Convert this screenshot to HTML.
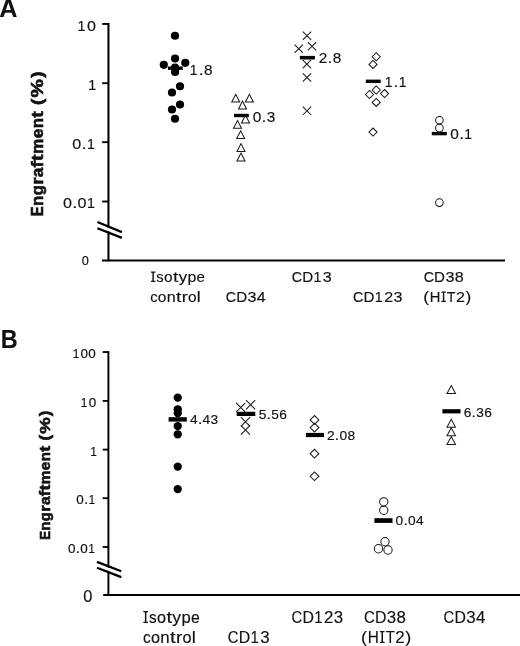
<!DOCTYPE html>
<html><head><meta charset="utf-8"><title>Engraftment</title>
<style>
html,body{margin:0;padding:0;background:#fff;}
body{width:520px;height:646px;overflow:hidden;font-family:"Liberation Sans",sans-serif;}
svg{display:block;filter:grayscale(1);}
svg text{font-family:"Liberation Sans",sans-serif;}
</style></head><body>
<svg width="520" height="646" viewBox="0 0 520 646">
<rect width="520" height="646" fill="#fff"/>
<g stroke="#000" stroke-width="2.05" fill="none" stroke-linecap="butt">
<path d="M108.45,23.0 V261.2"/>
<path d="M102.0,260.4 H505" stroke-width="1.95"/>
<path d="M102.2,23.95 H108.45" stroke-width="1.9"/>
<path d="M102.2,83.2 H108.45" stroke-width="1.9"/>
<path d="M102.2,142.15 H108.45" stroke-width="1.9"/>
<path d="M102.2,201.5 H108.45" stroke-width="1.9"/>
</g>
<path d="M97,223.2 L122.5,233.6 L122.5,236.6 L97,226.9 Z" fill="#fff"/>
<path d="M97.4,222.0 L121.9,232.1 M97.4,228.3 L121.9,237.9" stroke="#000" stroke-width="2.3" fill="none"/>
<text transform="translate(-0.80,17.10) scale(0.980,1)" font-size="25.80" font-weight="bold" stroke="#111" stroke-width="0.0" fill="#111">A</text>
<text transform="translate(77.58,30.60) scale(0.922,1)" font-size="15.46" stroke="#111" stroke-width="0.15" fill="#111">1</text>
<text transform="translate(86.91,30.60) scale(1.042,1)" font-size="15.46" stroke="#111" stroke-width="0.15" fill="#111">0</text>
<text transform="translate(88.21,89.60) scale(0.922,1)" font-size="15.46" stroke="#111" stroke-width="0.15" fill="#111">1</text>
<text transform="translate(72.24,149.00) scale(1.042,1)" font-size="15.46" stroke="#111" stroke-width="0.15" fill="#111">0</text>
<text transform="translate(81.47,149.00) scale(1.199,1)" font-size="15.46" stroke="#111" stroke-width="0.15" fill="#111">.</text>
<text transform="translate(86.91,149.00) scale(0.922,1)" font-size="15.46" stroke="#111" stroke-width="0.15" fill="#111">1</text>
<text transform="translate(62.91,208.00) scale(1.042,1)" font-size="15.46" stroke="#111" stroke-width="0.15" fill="#111">0</text>
<text transform="translate(72.14,208.00) scale(1.199,1)" font-size="15.46" stroke="#111" stroke-width="0.15" fill="#111">.</text>
<text transform="translate(77.58,208.00) scale(1.042,1)" font-size="15.46" stroke="#111" stroke-width="0.15" fill="#111">0</text>
<text transform="translate(86.91,208.00) scale(0.922,1)" font-size="15.46" stroke="#111" stroke-width="0.15" fill="#111">1</text>
<text transform="translate(81.87,265.20) scale(1.026,1)" font-size="12.41" stroke="#111" stroke-width="0.15" fill="#111">0</text>
<text transform="translate(43.20,216.22) rotate(-90) scale(0.882,1)" font-size="16.80" font-weight="bold" stroke="#111" stroke-width="0.6" fill="#111">E</text>
<text transform="translate(43.20,205.97) rotate(-90) scale(1.004,1)" font-size="16.80" font-weight="bold" stroke="#111" stroke-width="0.6" fill="#111">n</text>
<text transform="translate(43.20,195.29) rotate(-90) scale(0.986,1)" font-size="16.80" font-weight="bold" stroke="#111" stroke-width="0.6" fill="#111">g</text>
<text transform="translate(43.20,184.86) rotate(-90) scale(1.101,1)" font-size="16.80" font-weight="bold" stroke="#111" stroke-width="0.6" fill="#111">r</text>
<text transform="translate(43.20,177.36) rotate(-90) scale(1.035,1)" font-size="16.80" font-weight="bold" stroke="#111" stroke-width="0.6" fill="#111">a</text>
<text transform="translate(43.20,167.40) rotate(-90) scale(1.089,1)" font-size="16.80" font-weight="bold" stroke="#111" stroke-width="0.6" fill="#111">f</text>
<text transform="translate(43.20,161.08) rotate(-90) scale(1.177,1)" font-size="16.80" font-weight="bold" stroke="#111" stroke-width="0.6" fill="#111">t</text>
<text transform="translate(43.20,154.10) rotate(-90) scale(1.025,1)" font-size="16.80" font-weight="bold" stroke="#111" stroke-width="0.6" fill="#111">m</text>
<text transform="translate(43.20,138.33) rotate(-90) scale(1.029,1)" font-size="16.80" font-weight="bold" stroke="#111" stroke-width="0.6" fill="#111">e</text>
<text transform="translate(43.20,128.36) rotate(-90) scale(1.004,1)" font-size="16.80" font-weight="bold" stroke="#111" stroke-width="0.6" fill="#111">n</text>
<text transform="translate(43.20,117.75) rotate(-90) scale(1.177,1)" font-size="16.80" font-weight="bold" stroke="#111" stroke-width="0.6" fill="#111">t</text>
<text transform="translate(43.20,104.97) rotate(-90) scale(1.120,1)" font-size="16.80" font-weight="bold" stroke="#111" stroke-width="0.6" fill="#111">(</text>
<text transform="translate(43.20,97.43) rotate(-90) scale(1.232,1)" font-size="16.80" font-weight="bold" stroke="#111" stroke-width="0.6" fill="#111">%</text>
<text transform="translate(43.20,77.76) rotate(-90) scale(1.120,1)" font-size="16.80" font-weight="bold" stroke="#111" stroke-width="0.6" fill="#111">)</text>
<circle cx="175" cy="35.75" r="4.1" fill="#000"/>
<circle cx="175.1" cy="58.5" r="4.1" fill="#000"/>
<circle cx="163.8" cy="64.8" r="4.1" fill="#000"/>
<circle cx="185.3" cy="62.8" r="4.1" fill="#000"/>
<circle cx="175" cy="67.5" r="4.1" fill="#000"/>
<circle cx="175.1" cy="72.0" r="4.1" fill="#000"/>
<circle cx="180" cy="86.25" r="4.1" fill="#000"/>
<circle cx="172" cy="92.5" r="4.1" fill="#000"/>
<circle cx="180" cy="104.5" r="4.1" fill="#000"/>
<circle cx="172" cy="109.5" r="4.1" fill="#000"/>
<circle cx="175" cy="118.75" r="4.1" fill="#000"/>
<rect x="167.9" y="66.5" width="14.90" height="3.40" fill="#000"/>
<rect x="234.0" y="113.8" width="14.80" height="3.40" fill="#000"/>
<rect x="299.9" y="55.9" width="15.00" height="3.60" fill="#000"/>
<rect x="365.8" y="79.6" width="14.90" height="3.40" fill="#000"/>
<rect x="431.8" y="131.9" width="15.00" height="3.40" fill="#000"/>
<path d="M231.75,102.10 L235.75,94.30 L239.75,102.10 Z" stroke="#181818" stroke-width="1.02" fill="none"/>
<path d="M245.40,102.10 L249.40,94.30 L253.40,102.10 Z" stroke="#181818" stroke-width="1.02" fill="none"/>
<path d="M238.50,108.90 L242.50,101.10 L246.50,108.90 Z" stroke="#181818" stroke-width="1.02" fill="none"/>
<path d="M241.50,122.90 L245.50,115.10 L249.50,122.90 Z" stroke="#181818" stroke-width="1.02" fill="none"/>
<path d="M233.50,128.30 L237.50,120.50 L241.50,128.30 Z" stroke="#181818" stroke-width="1.02" fill="none"/>
<path d="M236.70,138.60 L240.70,130.80 L244.70,138.60 Z" stroke="#181818" stroke-width="1.02" fill="none"/>
<path d="M237.00,151.40 L241.00,143.60 L245.00,151.40 Z" stroke="#181818" stroke-width="1.02" fill="none"/>
<path d="M237.00,160.90 L241.00,153.10 L245.00,160.90 Z" stroke="#181818" stroke-width="1.02" fill="none"/>
<path d="M302.80,31.55 L311.20,39.95 M302.80,39.95 L311.20,31.55" stroke="#181818" stroke-width="1.02" fill="none"/>
<path d="M294.55,44.55 L302.95,52.95 M294.55,52.95 L302.95,44.55" stroke="#181818" stroke-width="1.02" fill="none"/>
<path d="M307.80,42.05 L316.20,50.45 M307.80,50.45 L316.20,42.05" stroke="#181818" stroke-width="1.02" fill="none"/>
<path d="M302.70,59.90 L311.10,68.30 M302.70,68.30 L311.10,59.90" stroke="#181818" stroke-width="1.02" fill="none"/>
<path d="M302.80,73.30 L311.20,81.70 M302.80,81.70 L311.20,73.30" stroke="#181818" stroke-width="1.02" fill="none"/>
<path d="M302.80,106.60 L311.20,115.00 M302.80,115.00 L311.20,106.60" stroke="#181818" stroke-width="1.02" fill="none"/>
<path d="M372.20,56.75 L376.25,52.70 L380.30,56.75 L376.25,60.80 Z" stroke="#181818" stroke-width="1.02" fill="none"/>
<path d="M368.95,64.40 L373.00,60.35 L377.05,64.40 L373.00,68.45 Z" stroke="#181818" stroke-width="1.02" fill="none"/>
<path d="M372.20,90.00 L376.25,85.95 L380.30,90.00 L376.25,94.05 Z" stroke="#181818" stroke-width="1.02" fill="none"/>
<path d="M365.45,94.50 L369.50,90.45 L373.55,94.50 L369.50,98.55 Z" stroke="#181818" stroke-width="1.02" fill="none"/>
<path d="M380.45,93.60 L384.50,89.55 L388.55,93.60 L384.50,97.65 Z" stroke="#181818" stroke-width="1.02" fill="none"/>
<path d="M372.20,102.40 L376.25,98.35 L380.30,102.40 L376.25,106.45 Z" stroke="#181818" stroke-width="1.02" fill="none"/>
<path d="M368.95,132.10 L373.00,128.05 L377.05,132.10 L373.00,136.15 Z" stroke="#181818" stroke-width="1.02" fill="none"/>
<circle cx="439.4" cy="120.2" r="3.8" stroke="#181818" stroke-width="1.02" fill="none"/>
<circle cx="439.4" cy="128.1" r="3.8" stroke="#181818" stroke-width="1.02" fill="none"/>
<circle cx="439.4" cy="202.6" r="3.8" stroke="#181818" stroke-width="1.02" fill="none"/>
<text transform="translate(189.84,74.60) scale(0.920,1)" font-size="15.12" stroke="#111" stroke-width="0.15" fill="#111">1</text>
<text transform="translate(198.74,74.60) scale(1.170,1)" font-size="15.12" stroke="#111" stroke-width="0.15" fill="#111">.</text>
<text transform="translate(203.93,74.60) scale(1.017,1)" font-size="15.12" stroke="#111" stroke-width="0.15" fill="#111">8</text>
<text transform="translate(252.73,121.60) scale(1.017,1)" font-size="15.12" stroke="#111" stroke-width="0.15" fill="#111">0</text>
<text transform="translate(261.54,121.60) scale(1.170,1)" font-size="15.12" stroke="#111" stroke-width="0.15" fill="#111">.</text>
<text transform="translate(266.73,121.60) scale(1.017,1)" font-size="15.12" stroke="#111" stroke-width="0.15" fill="#111">3</text>
<text transform="translate(318.73,62.90) scale(1.017,1)" font-size="15.12" stroke="#111" stroke-width="0.15" fill="#111">2</text>
<text transform="translate(327.54,62.90) scale(1.170,1)" font-size="15.12" stroke="#111" stroke-width="0.15" fill="#111">.</text>
<text transform="translate(332.73,62.90) scale(1.017,1)" font-size="15.12" stroke="#111" stroke-width="0.15" fill="#111">8</text>
<text transform="translate(384.64,87.40) scale(0.920,1)" font-size="15.12" stroke="#111" stroke-width="0.15" fill="#111">1</text>
<text transform="translate(393.54,87.40) scale(1.170,1)" font-size="15.12" stroke="#111" stroke-width="0.15" fill="#111">.</text>
<text transform="translate(398.64,87.40) scale(0.920,1)" font-size="15.12" stroke="#111" stroke-width="0.15" fill="#111">1</text>
<text transform="translate(450.33,139.10) scale(1.017,1)" font-size="15.12" stroke="#111" stroke-width="0.15" fill="#111">0</text>
<text transform="translate(459.14,139.10) scale(1.170,1)" font-size="15.12" stroke="#111" stroke-width="0.15" fill="#111">.</text>
<text transform="translate(464.24,139.10) scale(0.920,1)" font-size="15.12" stroke="#111" stroke-width="0.15" fill="#111">1</text>
<path d="M152.43,271.40h1.44v10.60h-1.44z M150.95,271.40h4.40v1.25h-4.40z M150.95,280.75h4.40v1.25h-4.40z" fill="#111"/>
<text transform="translate(156.37,282.40) scale(0.954,1)" font-size="15.46" stroke="#111" stroke-width="0.15" fill="#111">s</text>
<text transform="translate(164.04,282.40) scale(1.000,1)" font-size="15.46" stroke="#111" stroke-width="0.15" fill="#111">o</text>
<text transform="translate(172.99,282.40) scale(1.250,1)" font-size="15.46" stroke="#111" stroke-width="0.15" fill="#111">t</text>
<text transform="translate(178.72,282.40) scale(1.084,1)" font-size="15.46" stroke="#111" stroke-width="0.15" fill="#111">y</text>
<text transform="translate(187.41,282.40) scale(1.026,1)" font-size="15.46" stroke="#111" stroke-width="0.15" fill="#111">p</text>
<text transform="translate(196.55,282.40) scale(0.981,1)" font-size="15.46" stroke="#111" stroke-width="0.15" fill="#111">e</text>
<text transform="translate(150.13,301.70) scale(0.954,1)" font-size="15.46" stroke="#111" stroke-width="0.15" fill="#111">c</text>
<text transform="translate(157.80,301.70) scale(1.000,1)" font-size="15.46" stroke="#111" stroke-width="0.15" fill="#111">o</text>
<text transform="translate(166.71,301.70) scale(1.042,1)" font-size="15.46" stroke="#111" stroke-width="0.15" fill="#111">n</text>
<text transform="translate(176.04,301.70) scale(1.250,1)" font-size="15.46" stroke="#111" stroke-width="0.15" fill="#111">t</text>
<text transform="translate(181.72,301.70) scale(1.174,1)" font-size="15.46" stroke="#111" stroke-width="0.15" fill="#111">r</text>
<text transform="translate(188.03,301.70) scale(1.000,1)" font-size="15.46" stroke="#111" stroke-width="0.15" fill="#111">o</text>
<text transform="translate(196.85,301.70) scale(1.130,1)" font-size="15.46" stroke="#111" stroke-width="0.15" fill="#111">l</text>
<text transform="translate(225.78,301.70) scale(0.920,1)" font-size="15.46" stroke="#111" stroke-width="0.15" fill="#111">C</text>
<text transform="translate(236.23,301.70) scale(0.978,1)" font-size="15.46" stroke="#111" stroke-width="0.15" fill="#111">D</text>
<text transform="translate(247.53,301.70) scale(1.042,1)" font-size="15.46" stroke="#111" stroke-width="0.15" fill="#111">3</text>
<text transform="translate(256.86,301.70) scale(1.042,1)" font-size="15.46" stroke="#111" stroke-width="0.15" fill="#111">4</text>
<text transform="translate(291.78,282.40) scale(0.920,1)" font-size="15.46" stroke="#111" stroke-width="0.15" fill="#111">C</text>
<text transform="translate(302.23,282.40) scale(0.978,1)" font-size="15.46" stroke="#111" stroke-width="0.15" fill="#111">D</text>
<text transform="translate(313.53,282.40) scale(0.922,1)" font-size="15.46" stroke="#111" stroke-width="0.15" fill="#111">1</text>
<text transform="translate(322.86,282.40) scale(1.042,1)" font-size="15.46" stroke="#111" stroke-width="0.15" fill="#111">3</text>
<text transform="translate(353.11,301.70) scale(0.920,1)" font-size="15.46" stroke="#111" stroke-width="0.15" fill="#111">C</text>
<text transform="translate(363.57,301.70) scale(0.978,1)" font-size="15.46" stroke="#111" stroke-width="0.15" fill="#111">D</text>
<text transform="translate(374.87,301.70) scale(0.922,1)" font-size="15.46" stroke="#111" stroke-width="0.15" fill="#111">1</text>
<text transform="translate(384.20,301.70) scale(1.042,1)" font-size="15.46" stroke="#111" stroke-width="0.15" fill="#111">2</text>
<text transform="translate(393.53,301.70) scale(1.042,1)" font-size="15.46" stroke="#111" stroke-width="0.15" fill="#111">3</text>
<text transform="translate(423.63,282.40) scale(0.920,1)" font-size="15.46" stroke="#111" stroke-width="0.15" fill="#111">C</text>
<text transform="translate(434.08,282.40) scale(0.978,1)" font-size="15.46" stroke="#111" stroke-width="0.15" fill="#111">D</text>
<text transform="translate(445.38,282.40) scale(1.042,1)" font-size="15.46" stroke="#111" stroke-width="0.15" fill="#111">3</text>
<text transform="translate(454.71,282.40) scale(1.042,1)" font-size="15.46" stroke="#111" stroke-width="0.15" fill="#111">8</text>
<text transform="translate(423.26,301.70) scale(1.120,1)" font-size="15.46" stroke="#111" stroke-width="0.15" fill="#111">(</text>
<text transform="translate(429.66,301.70) scale(0.952,1)" font-size="15.46" stroke="#111" stroke-width="0.15" fill="#111">H</text>
<path d="M442.86,291.40h1.44v10.60h-1.44z M441.37,291.40h4.40v1.25h-4.40z M441.37,300.75h4.40v1.25h-4.40z" fill="#111"/>
<text transform="translate(446.82,301.70) scale(0.923,1)" font-size="15.46" stroke="#111" stroke-width="0.15" fill="#111">T</text>
<text transform="translate(455.89,301.70) scale(1.042,1)" font-size="15.46" stroke="#111" stroke-width="0.15" fill="#111">2</text>
<text transform="translate(465.48,301.70) scale(1.120,1)" font-size="15.46" stroke="#111" stroke-width="0.15" fill="#111">)</text>
<g stroke="#000" stroke-width="1.95" fill="none">
<path d="M108.4,351.1 V595.9"/>
<path d="M103.2,595.0 H520" stroke-width="1.9"/>
<path d="M102.7,352.05 H108.4" stroke-width="1.85"/>
<path d="M102.7,400.9 H108.4" stroke-width="1.85"/>
<path d="M102.7,449.6 H108.4" stroke-width="1.85"/>
<path d="M102.7,498.2 H108.4" stroke-width="1.85"/>
<path d="M102.7,547.0 H108.4" stroke-width="1.85"/>
</g>
<path d="M96.5,563.0 L122,572.9 L122,575.8 L96.5,566.4 Z" fill="#fff"/>
<path d="M97.0,561.9 L121.3,571.3 M97.0,567.7 L121.3,577.1" stroke="#000" stroke-width="2.3" fill="none"/>
<text transform="translate(0.75,347.70) scale(0.910,1)" font-size="25.80" font-weight="bold" stroke="#111" stroke-width="0.1" fill="#111">B</text>
<text transform="translate(72.78,358.20) scale(0.922,1)" font-size="12.91" stroke="#111" stroke-width="0.15" fill="#111">1</text>
<text transform="translate(80.57,358.20) scale(1.042,1)" font-size="12.91" stroke="#111" stroke-width="0.15" fill="#111">0</text>
<text transform="translate(88.36,358.20) scale(1.042,1)" font-size="12.91" stroke="#111" stroke-width="0.15" fill="#111">0</text>
<text transform="translate(80.87,406.50) scale(0.922,1)" font-size="12.91" stroke="#111" stroke-width="0.15" fill="#111">1</text>
<text transform="translate(88.66,406.50) scale(1.042,1)" font-size="12.91" stroke="#111" stroke-width="0.15" fill="#111">0</text>
<text transform="translate(90.26,455.90) scale(0.922,1)" font-size="12.91" stroke="#111" stroke-width="0.15" fill="#111">1</text>
<text transform="translate(76.21,504.40) scale(1.042,1)" font-size="12.91" stroke="#111" stroke-width="0.15" fill="#111">0</text>
<text transform="translate(83.93,504.40) scale(1.199,1)" font-size="12.91" stroke="#111" stroke-width="0.15" fill="#111">.</text>
<text transform="translate(88.46,504.40) scale(0.922,1)" font-size="12.91" stroke="#111" stroke-width="0.15" fill="#111">1</text>
<text transform="translate(68.12,552.80) scale(1.042,1)" font-size="12.91" stroke="#111" stroke-width="0.15" fill="#111">0</text>
<text transform="translate(75.84,552.80) scale(1.199,1)" font-size="12.91" stroke="#111" stroke-width="0.15" fill="#111">.</text>
<text transform="translate(80.37,552.80) scale(1.042,1)" font-size="12.91" stroke="#111" stroke-width="0.15" fill="#111">0</text>
<text transform="translate(88.16,552.80) scale(0.922,1)" font-size="12.91" stroke="#111" stroke-width="0.15" fill="#111">1</text>
<text transform="translate(83.15,602.00) scale(0.989,1)" font-size="16.65" stroke="#111" stroke-width="0.15" fill="#111">0</text>
<text transform="translate(49.60,539.84) rotate(-90) scale(0.882,1)" font-size="15.01" font-weight="bold" stroke="#111" stroke-width="0.6" fill="#111">E</text>
<text transform="translate(49.60,530.68) rotate(-90) scale(1.004,1)" font-size="15.01" font-weight="bold" stroke="#111" stroke-width="0.6" fill="#111">n</text>
<text transform="translate(49.60,521.14) rotate(-90) scale(0.986,1)" font-size="15.01" font-weight="bold" stroke="#111" stroke-width="0.6" fill="#111">g</text>
<text transform="translate(49.60,511.82) rotate(-90) scale(1.101,1)" font-size="15.01" font-weight="bold" stroke="#111" stroke-width="0.6" fill="#111">r</text>
<text transform="translate(49.60,505.12) rotate(-90) scale(1.035,1)" font-size="15.01" font-weight="bold" stroke="#111" stroke-width="0.6" fill="#111">a</text>
<text transform="translate(49.60,496.23) rotate(-90) scale(1.089,1)" font-size="15.01" font-weight="bold" stroke="#111" stroke-width="0.6" fill="#111">f</text>
<text transform="translate(49.60,490.58) rotate(-90) scale(1.177,1)" font-size="15.01" font-weight="bold" stroke="#111" stroke-width="0.6" fill="#111">t</text>
<text transform="translate(49.60,484.34) rotate(-90) scale(1.025,1)" font-size="15.01" font-weight="bold" stroke="#111" stroke-width="0.6" fill="#111">m</text>
<text transform="translate(49.60,470.26) rotate(-90) scale(1.029,1)" font-size="15.01" font-weight="bold" stroke="#111" stroke-width="0.6" fill="#111">e</text>
<text transform="translate(49.60,461.35) rotate(-90) scale(1.004,1)" font-size="15.01" font-weight="bold" stroke="#111" stroke-width="0.6" fill="#111">n</text>
<text transform="translate(49.60,451.87) rotate(-90) scale(1.177,1)" font-size="15.01" font-weight="bold" stroke="#111" stroke-width="0.6" fill="#111">t</text>
<text transform="translate(49.60,440.46) rotate(-90) scale(1.120,1)" font-size="15.01" font-weight="bold" stroke="#111" stroke-width="0.6" fill="#111">(</text>
<text transform="translate(49.60,433.72) rotate(-90) scale(1.232,1)" font-size="15.01" font-weight="bold" stroke="#111" stroke-width="0.6" fill="#111">%</text>
<text transform="translate(49.60,416.15) rotate(-90) scale(1.120,1)" font-size="15.01" font-weight="bold" stroke="#111" stroke-width="0.6" fill="#111">)</text>
<circle cx="177.75" cy="397.6" r="4.15" fill="#000"/>
<circle cx="177.75" cy="409.3" r="4.15" fill="#000"/>
<circle cx="177.75" cy="413.1" r="4.15" fill="#000"/>
<circle cx="177.75" cy="426.1" r="4.15" fill="#000"/>
<circle cx="177.75" cy="434.3" r="4.15" fill="#000"/>
<circle cx="177.75" cy="466.6" r="4.15" fill="#000"/>
<circle cx="177.75" cy="489.1" r="4.15" fill="#000"/>
<rect x="168.6" y="417.2" width="18.20" height="4.40" fill="#000"/>
<rect x="236.7" y="411.8" width="18.60" height="4.20" fill="#000"/>
<rect x="305.9" y="432.9" width="18.10" height="4.20" fill="#000"/>
<rect x="374.4" y="518.2" width="18.10" height="4.70" fill="#000"/>
<rect x="442.4" y="409.2" width="18.10" height="4.20" fill="#000"/>
<path d="M236.15,402.90 L245.35,412.10 M236.15,412.10 L245.35,402.90" stroke="#181818" stroke-width="1.02" fill="none"/>
<path d="M246.00,400.20 L255.20,409.40 M246.00,409.40 L255.20,400.20" stroke="#181818" stroke-width="1.02" fill="none"/>
<path d="M240.90,417.15 L250.10,426.35 M240.90,426.35 L250.10,417.15" stroke="#181818" stroke-width="1.02" fill="none"/>
<path d="M240.90,425.40 L250.10,434.60 M240.90,434.60 L250.10,425.40" stroke="#181818" stroke-width="1.02" fill="none"/>
<path d="M310.15,419.90 L314.50,415.55 L318.85,419.90 L314.50,424.25 Z" stroke="#181818" stroke-width="1.02" fill="none"/>
<path d="M310.15,427.60 L314.50,423.25 L318.85,427.60 L314.50,431.95 Z" stroke="#181818" stroke-width="1.02" fill="none"/>
<path d="M310.15,453.65 L314.50,449.30 L318.85,453.65 L314.50,458.00 Z" stroke="#181818" stroke-width="1.02" fill="none"/>
<path d="M310.15,476.30 L314.50,471.95 L318.85,476.30 L314.50,480.65 Z" stroke="#181818" stroke-width="1.02" fill="none"/>
<circle cx="383.75" cy="501.8" r="4.15" stroke="#181818" stroke-width="1.02" fill="none"/>
<circle cx="383.75" cy="510.3" r="4.15" stroke="#181818" stroke-width="1.02" fill="none"/>
<circle cx="385" cy="541.75" r="4.15" stroke="#181818" stroke-width="1.02" fill="none"/>
<circle cx="378.5" cy="548.75" r="4.15" stroke="#181818" stroke-width="1.02" fill="none"/>
<circle cx="388" cy="550" r="4.15" stroke="#181818" stroke-width="1.02" fill="none"/>
<path d="M447.00,393.45 L451.25,385.55 L455.50,393.45 Z" stroke="#181818" stroke-width="1.02" fill="none"/>
<path d="M447.00,427.20 L451.25,419.30 L455.50,427.20 Z" stroke="#181818" stroke-width="1.02" fill="none"/>
<path d="M447.00,435.70 L451.25,427.80 L455.50,435.70 Z" stroke="#181818" stroke-width="1.02" fill="none"/>
<path d="M447.00,444.45 L451.25,436.55 L455.50,444.45 Z" stroke="#181818" stroke-width="1.02" fill="none"/>
<text transform="translate(190.06,424.30) scale(1.042,1)" font-size="13.18" stroke="#111" stroke-width="0.15" fill="#111">4</text>
<text transform="translate(197.93,424.30) scale(1.199,1)" font-size="13.18" stroke="#111" stroke-width="0.15" fill="#111">.</text>
<text transform="translate(202.56,424.30) scale(1.042,1)" font-size="13.18" stroke="#111" stroke-width="0.15" fill="#111">4</text>
<text transform="translate(210.51,424.30) scale(1.042,1)" font-size="13.18" stroke="#111" stroke-width="0.15" fill="#111">3</text>
<text transform="translate(258.71,419.00) scale(1.042,1)" font-size="13.18" stroke="#111" stroke-width="0.15" fill="#111">5</text>
<text transform="translate(266.58,419.00) scale(1.199,1)" font-size="13.18" stroke="#111" stroke-width="0.15" fill="#111">.</text>
<text transform="translate(271.21,419.00) scale(1.042,1)" font-size="13.18" stroke="#111" stroke-width="0.15" fill="#111">5</text>
<text transform="translate(279.16,419.00) scale(1.042,1)" font-size="13.18" stroke="#111" stroke-width="0.15" fill="#111">6</text>
<text transform="translate(326.96,439.80) scale(1.042,1)" font-size="13.18" stroke="#111" stroke-width="0.15" fill="#111">2</text>
<text transform="translate(334.83,439.80) scale(1.199,1)" font-size="13.18" stroke="#111" stroke-width="0.15" fill="#111">.</text>
<text transform="translate(339.46,439.80) scale(1.042,1)" font-size="13.18" stroke="#111" stroke-width="0.15" fill="#111">0</text>
<text transform="translate(347.41,439.80) scale(1.042,1)" font-size="13.18" stroke="#111" stroke-width="0.15" fill="#111">8</text>
<text transform="translate(395.56,525.20) scale(1.042,1)" font-size="13.18" stroke="#111" stroke-width="0.15" fill="#111">0</text>
<text transform="translate(403.43,525.20) scale(1.199,1)" font-size="13.18" stroke="#111" stroke-width="0.15" fill="#111">.</text>
<text transform="translate(408.06,525.20) scale(1.042,1)" font-size="13.18" stroke="#111" stroke-width="0.15" fill="#111">0</text>
<text transform="translate(416.01,525.20) scale(1.042,1)" font-size="13.18" stroke="#111" stroke-width="0.15" fill="#111">4</text>
<text transform="translate(463.71,416.50) scale(1.042,1)" font-size="13.18" stroke="#111" stroke-width="0.15" fill="#111">6</text>
<text transform="translate(471.58,416.50) scale(1.199,1)" font-size="13.18" stroke="#111" stroke-width="0.15" fill="#111">.</text>
<text transform="translate(476.21,416.50) scale(1.042,1)" font-size="13.18" stroke="#111" stroke-width="0.15" fill="#111">3</text>
<text transform="translate(484.16,416.50) scale(1.042,1)" font-size="13.18" stroke="#111" stroke-width="0.15" fill="#111">6</text>
<path d="M144.90,611.00h1.50v12.00h-1.50z M143.35,611.00h4.60v1.30h-4.60z M143.35,621.70h4.60v1.30h-4.60z" fill="#111"/>
<text transform="translate(149.02,622.50) scale(0.954,1)" font-size="16.16" stroke="#111" stroke-width="0.15" fill="#111">s</text>
<text transform="translate(157.03,622.50) scale(1.000,1)" font-size="16.16" stroke="#111" stroke-width="0.15" fill="#111">o</text>
<text transform="translate(166.38,622.50) scale(1.250,1)" font-size="16.16" stroke="#111" stroke-width="0.15" fill="#111">t</text>
<text transform="translate(172.37,622.50) scale(1.084,1)" font-size="16.16" stroke="#111" stroke-width="0.15" fill="#111">y</text>
<text transform="translate(181.45,622.50) scale(1.026,1)" font-size="16.16" stroke="#111" stroke-width="0.15" fill="#111">p</text>
<text transform="translate(191.00,622.50) scale(0.981,1)" font-size="16.16" stroke="#111" stroke-width="0.15" fill="#111">e</text>
<text transform="translate(143.00,642.90) scale(0.954,1)" font-size="16.16" stroke="#111" stroke-width="0.15" fill="#111">c</text>
<text transform="translate(151.01,642.90) scale(1.000,1)" font-size="16.16" stroke="#111" stroke-width="0.15" fill="#111">o</text>
<text transform="translate(160.32,642.90) scale(1.042,1)" font-size="16.16" stroke="#111" stroke-width="0.15" fill="#111">n</text>
<text transform="translate(170.06,642.90) scale(1.250,1)" font-size="16.16" stroke="#111" stroke-width="0.15" fill="#111">t</text>
<text transform="translate(176.01,642.90) scale(1.174,1)" font-size="16.16" stroke="#111" stroke-width="0.15" fill="#111">r</text>
<text transform="translate(182.60,642.90) scale(1.000,1)" font-size="16.16" stroke="#111" stroke-width="0.15" fill="#111">o</text>
<text transform="translate(191.82,642.90) scale(1.130,1)" font-size="16.16" stroke="#111" stroke-width="0.15" fill="#111">l</text>
<text transform="translate(227.72,642.70) scale(0.920,1)" font-size="16.16" stroke="#111" stroke-width="0.15" fill="#111">C</text>
<text transform="translate(238.65,642.70) scale(0.978,1)" font-size="16.16" stroke="#111" stroke-width="0.15" fill="#111">D</text>
<text transform="translate(250.45,642.70) scale(0.922,1)" font-size="16.16" stroke="#111" stroke-width="0.15" fill="#111">1</text>
<text transform="translate(260.20,642.70) scale(1.042,1)" font-size="16.16" stroke="#111" stroke-width="0.15" fill="#111">3</text>
<text transform="translate(291.60,622.50) scale(0.920,1)" font-size="16.16" stroke="#111" stroke-width="0.15" fill="#111">C</text>
<text transform="translate(302.52,622.50) scale(0.978,1)" font-size="16.16" stroke="#111" stroke-width="0.15" fill="#111">D</text>
<text transform="translate(314.33,622.50) scale(0.922,1)" font-size="16.16" stroke="#111" stroke-width="0.15" fill="#111">1</text>
<text transform="translate(324.08,622.50) scale(1.042,1)" font-size="16.16" stroke="#111" stroke-width="0.15" fill="#111">2</text>
<text transform="translate(333.83,622.50) scale(1.042,1)" font-size="16.16" stroke="#111" stroke-width="0.15" fill="#111">3</text>
<text transform="translate(363.97,622.50) scale(0.920,1)" font-size="16.16" stroke="#111" stroke-width="0.15" fill="#111">C</text>
<text transform="translate(374.90,622.50) scale(0.978,1)" font-size="16.16" stroke="#111" stroke-width="0.15" fill="#111">D</text>
<text transform="translate(386.71,622.50) scale(1.042,1)" font-size="16.16" stroke="#111" stroke-width="0.15" fill="#111">3</text>
<text transform="translate(396.45,622.50) scale(1.042,1)" font-size="16.16" stroke="#111" stroke-width="0.15" fill="#111">8</text>
<text transform="translate(443.47,622.50) scale(0.920,1)" font-size="16.16" stroke="#111" stroke-width="0.15" fill="#111">C</text>
<text transform="translate(454.40,622.50) scale(0.978,1)" font-size="16.16" stroke="#111" stroke-width="0.15" fill="#111">D</text>
<text transform="translate(466.21,622.50) scale(1.042,1)" font-size="16.16" stroke="#111" stroke-width="0.15" fill="#111">3</text>
<text transform="translate(475.95,622.50) scale(1.042,1)" font-size="16.16" stroke="#111" stroke-width="0.15" fill="#111">4</text>
<text transform="translate(361.03,643.20) scale(1.120,1)" font-size="16.16" stroke="#111" stroke-width="0.15" fill="#111">(</text>
<text transform="translate(367.72,643.20) scale(0.952,1)" font-size="16.16" stroke="#111" stroke-width="0.15" fill="#111">H</text>
<path d="M381.51,631.00h1.50v12.00h-1.50z M379.96,631.00h4.60v1.30h-4.60z M379.96,641.70h4.60v1.30h-4.60z" fill="#111"/>
<text transform="translate(385.65,643.20) scale(0.923,1)" font-size="16.16" stroke="#111" stroke-width="0.15" fill="#111">T</text>
<text transform="translate(395.13,643.20) scale(1.042,1)" font-size="16.16" stroke="#111" stroke-width="0.15" fill="#111">2</text>
<text transform="translate(405.15,643.20) scale(1.120,1)" font-size="16.16" stroke="#111" stroke-width="0.15" fill="#111">)</text>
</svg>
</body></html>
